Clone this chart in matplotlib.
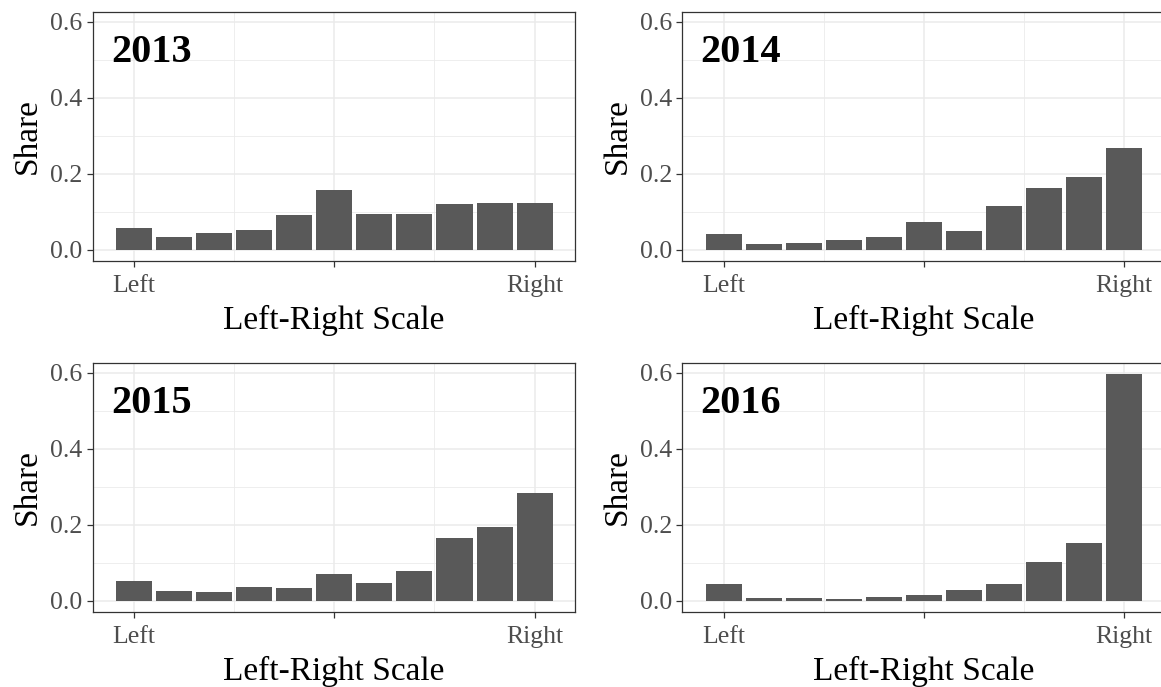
import numpy as np
import matplotlib
matplotlib.use("Agg")
import matplotlib.pyplot as plt
from matplotlib.ticker import MultipleLocator, FormatStrFormatter

plt.rcParams['font.family'] = ['Liberation Serif', 'DejaVu Serif']

# share of respondents on each point of the 0-10 left-right scale
scale = np.arange(11)
years = ['2013', '2014', '2015', '2016']
share_2013 = [0.058, 0.032, 0.045, 0.053, 0.090, 0.156, 0.095, 0.095, 0.119, 0.124, 0.124]
share_2014 = [0.040, 0.016, 0.018, 0.026, 0.034, 0.074, 0.050, 0.114, 0.161, 0.190, 0.267]
share_2015 = [0.052, 0.026, 0.023, 0.036, 0.033, 0.070, 0.047, 0.078, 0.166, 0.195, 0.282]
share_2016 = [0.044, 0.007, 0.007, 0.004, 0.010, 0.015, 0.028, 0.044, 0.102, 0.152, 0.596]
shares = [share_2013, share_2014, share_2015, share_2016]
tick_pos = [0, 5, 10]
tick_text = ['Left', '', 'Right']

W, H = 1161, 687
fig = plt.figure(figsize=(W / 100, H / 100), dpi=100)

# panel boxes in pixels: left, top, width, height
boxes = [(92.7, 11.7, 482, 249.3), (682.3, 11.7, 482, 249.3),
         (92.7, 362.7, 482, 249.3), (682.3, 362.7, 482, 249.3)]

ymax = max(max(s) for s in shares)
for (l, t, w, h), year, vals in zip(boxes, years, shares):
    ax = fig.add_axes([l / W, 1 - (t + h) / H, w / W, h / H])
    ax.bar(scale, vals, width=0.9, color='#595959', zorder=2)
    ax.set_xlim(-1.03, 11.0)
    ax.set_ylim(-0.05 * ymax, 1.05 * ymax)
    ax.set_xticks(tick_pos)
    ax.set_xticklabels(tick_text)
    ax.xaxis.set_minor_locator(MultipleLocator(2.5))
    ax.yaxis.set_major_locator(MultipleLocator(0.2))
    ax.yaxis.set_minor_locator(MultipleLocator(0.1))
    ax.yaxis.set_major_formatter(FormatStrFormatter('%.1f'))
    ax.grid(which='major', color='#EBEBEB', lw=1.1, zorder=0)
    ax.grid(which='minor', color='#EBEBEB', lw=0.6, zorder=0)
    ax.set_axisbelow(True)
    ax.tick_params(which='major', length=4.5, width=0.9, color='#333333',
                   labelcolor='#4D4D4D', labelsize=18.5, pad=3)
    ax.tick_params(axis='x', which='major', pad=5.5)
    ax.tick_params(which='minor', length=0)
    for sp in ax.spines.values():
        sp.set_color('#333333')
        sp.set_linewidth(0.9)
    ax.set_xlabel('Left-Right Scale', fontsize=24, labelpad=6)
    ax.set_ylabel('Share', fontsize=24, labelpad=5)
    ax.text(0.038, 0.80, year, transform=ax.transAxes, fontsize=29,
            fontweight='bold', va='baseline', ha='left')

fig.savefig('out.png', dpi=100)
